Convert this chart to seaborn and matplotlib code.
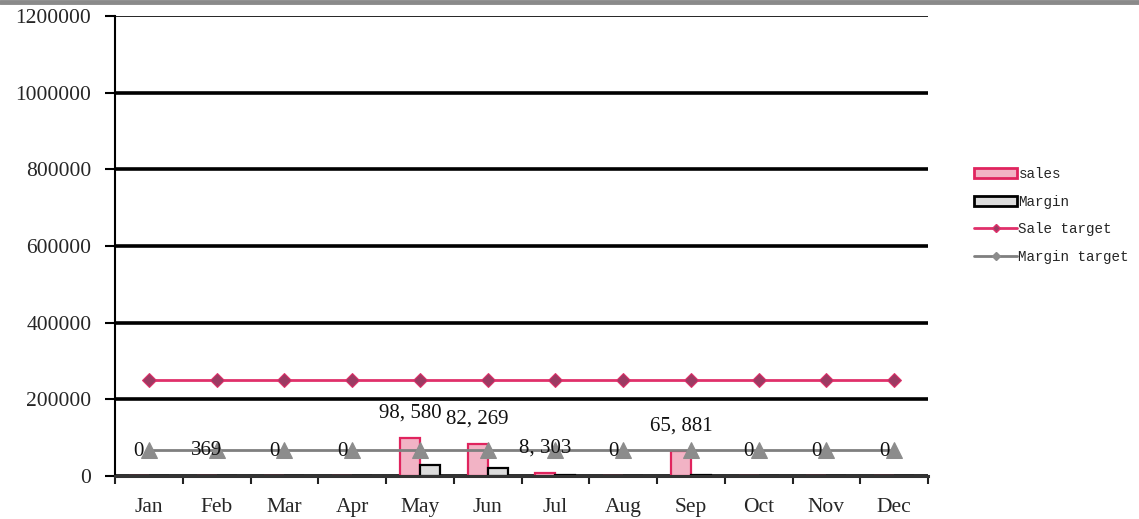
import numpy as np
import pandas as pd
import matplotlib
matplotlib.use("Agg")
import matplotlib.pyplot as plt
import seaborn as sns
from matplotlib.lines import Line2D
from matplotlib.patches import Patch

months = ["Jan", "Feb", "Mar", "Apr", "May", "Jun", "Jul", "Aug", "Sep", "Oct", "Nov", "Dec"]
sales = [0, 369, 0, 0, 98580, 82269, 8303, 0, 65881, 0, 0, 0]
margin = [0, 1200, 0, 0, 30000, 21000, 1800, 0, 2500, 0, 0, 0]
sale_target = [250000] * 12
margin_target = [68000] * 12
yticks = [0, 200000, 400000, 600000, 800000, 1000000, 1200000]

sns.set_theme(style="white")
plt.rcParams["font.family"] = ["Liberation Serif", "DejaVu Serif"]

fig = plt.figure(figsize=(11.39, 5.19), dpi=100)
ax = fig.add_axes([115 / 1139, 43 / 519, 813 / 1139, 460 / 519])

df = pd.DataFrame({
    "month": months * 2,
    "value": sales + margin,
    "series": ["sales"] * 12 + ["Margin"] * 12,
})
sales_col = "#f2b3c5"
margin_col = "#dcdcdc"
sns.barplot(data=df, x="month", y="value", hue="series", order=months,
            hue_order=["sales", "Margin"], palette=[sales_col, margin_col],
            width=0.59, ax=ax, legend=False, saturation=1)
for i, p in enumerate(ax.patches):
    if i < 12:
        p.set_edgecolor("#e0245e")
    else:
        p.set_edgecolor("black")
    p.set_linewidth(1.6)

xpos = np.arange(len(months))
sns.lineplot(x=xpos, y=sale_target, ax=ax, color="#e0306a", lw=2, marker="D",
             markersize=7, markerfacecolor="#9c3a62", markeredgecolor="#e0306a", zorder=4)
sns.lineplot(x=xpos, y=margin_target, ax=ax, color="#7f7f7f", lw=2, marker="^",
             markersize=11, markerfacecolor="#8c8c8c", markeredgecolor="#8c8c8c", zorder=4)

# data labels on sales bars
for i, p in enumerate(ax.patches[:12]):
    v = sales[i]
    cx = p.get_x() + p.get_width() / 2
    ax.annotate(f"{v:,}".replace(",", ", "), (cx, v), xytext=(0, 25),
                textcoords="offset pixels", ha="center", va="center",
                fontsize=15, color="#111111", zorder=5)

ax.set_ylim(0, 1200000)
ax.set_xlim(-0.5, 11.5)
ax.set_yticks(yticks)
ax.set_yticklabels([str(t) for t in yticks], fontsize=15.5)
ax.set_xticks(xpos)
ax.set_xticklabels(months, fontsize=15.5)
ax.set_xticks(np.arange(-0.5, 12, 1), minor=True)
ax.tick_params(axis="x", which="major", length=0, pad=16)
ax.tick_params(axis="x", which="minor", length=6, width=1.5, color="#222222", direction="out", bottom=True)
ax.tick_params(axis="y", length=7, width=1.5, color="black", direction="out", left=True, pad=10)
ax.set_xlabel("")
ax.set_ylabel("")

ax.yaxis.grid(True, color="black", lw=2.6)
ax.set_axisbelow(True)
ax.get_ygridlines()[-1].set_linewidth(1.2)
for s in ["top", "right"]:
    ax.spines[s].set_visible(False)
ax.spines["left"].set_color("black")
ax.spines["left"].set_linewidth(1.5)
ax.spines["bottom"].set_color("#333333")
ax.spines["bottom"].set_linewidth(2.2)

handles = [
    Patch(facecolor=sales_col, edgecolor="#e0245e", lw=2),
    Patch(facecolor=margin_col, edgecolor="black", lw=2),
    Line2D([], [], color="#e0306a", lw=2, marker="D", markersize=4,
           markerfacecolor="#9c3a62", markeredgecolor="#e0306a"),
    Line2D([], [], color="#7f7f7f", lw=2, marker="D", markersize=4,
           markerfacecolor="#8c8c8c", markeredgecolor="#8c8c8c"),
]
labels = ["sales", "Margin", "Sale target", "Margin target"]
fig.legend(handles, labels, loc="upper left", bbox_to_anchor=(967 / 1139, 1 - 160 / 519),
           bbox_transform=fig.transFigure, frameon=False, borderpad=0,
           handlelength=3.0, handleheight=0.7, handletextpad=0.1, labelspacing=0.95,
           prop={"family": "Liberation Mono", "size": 10.3})

fig.add_artist(Line2D([0, 1], [1 - 2 / 519, 1 - 2 / 519], transform=fig.transFigure,
                      color="#8a8a8a", lw=3.5))

fig.savefig("out.png", dpi=100, facecolor="white")
